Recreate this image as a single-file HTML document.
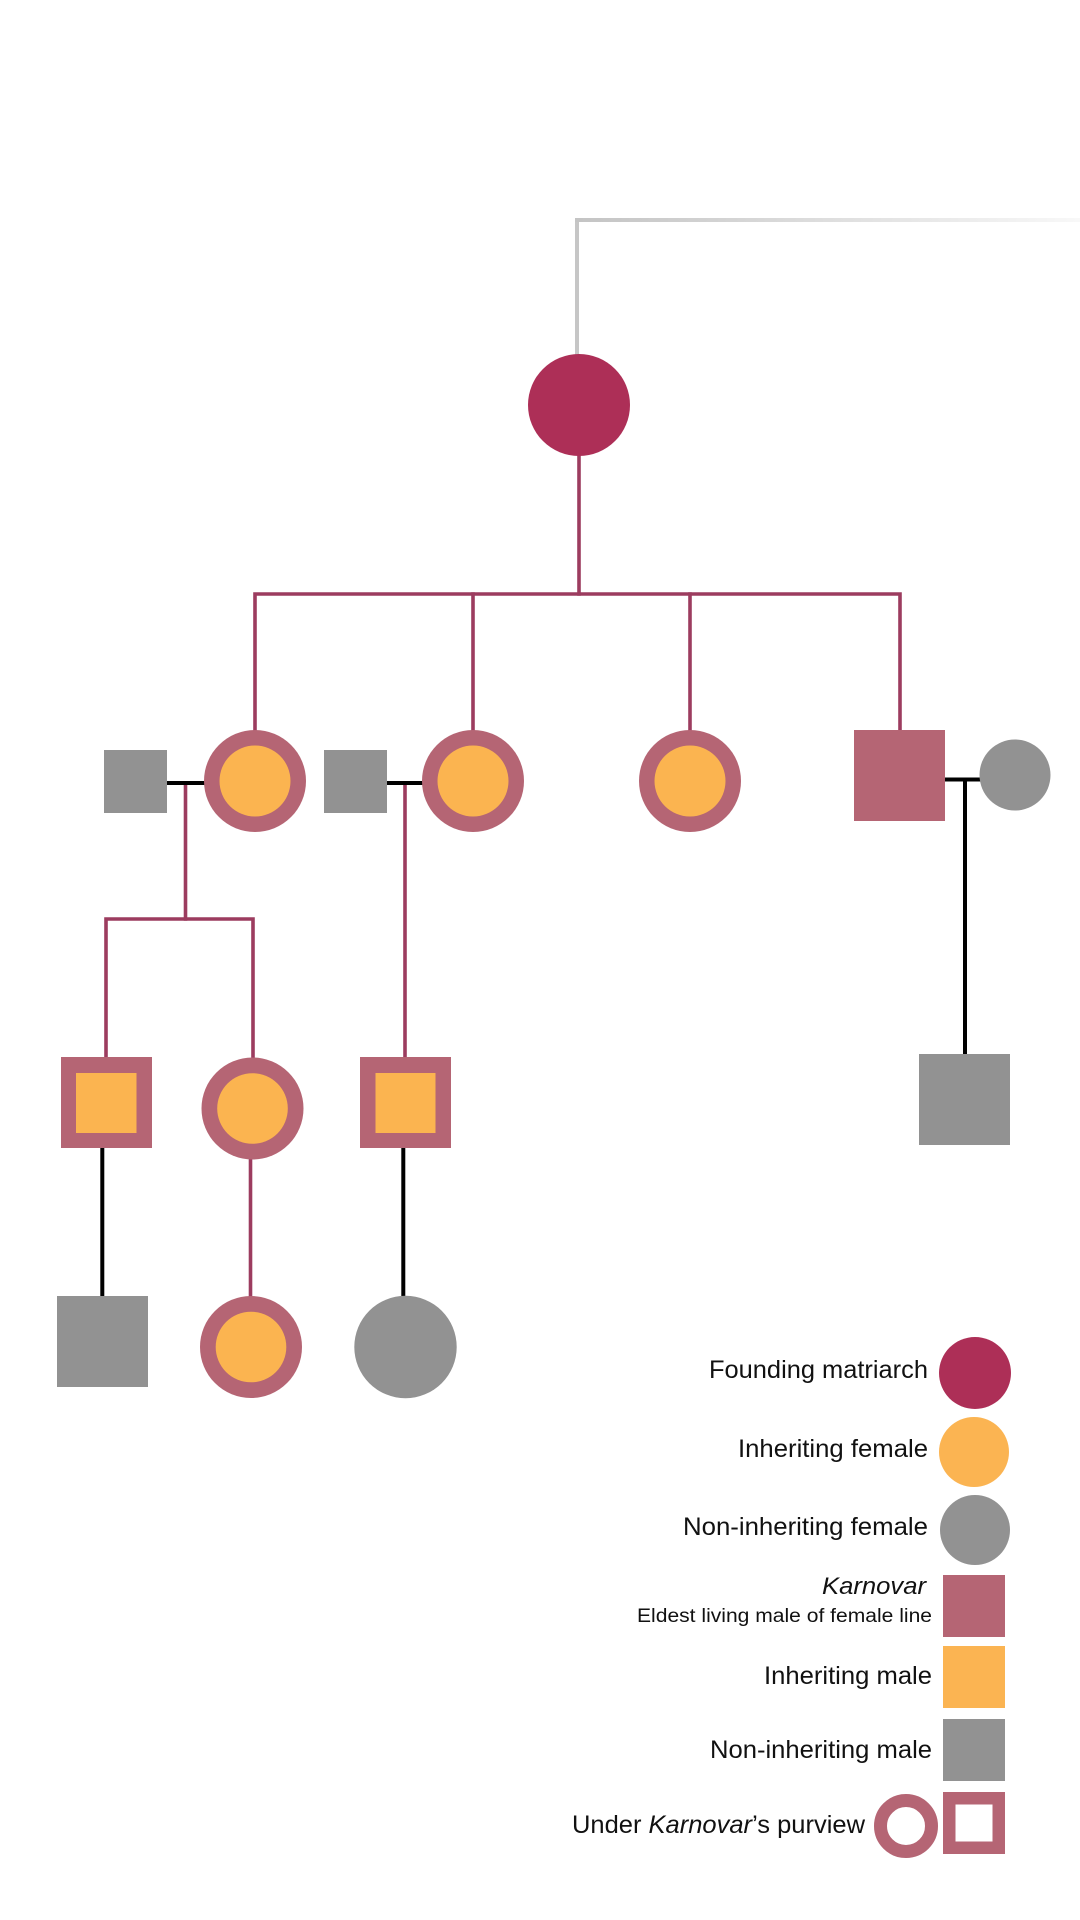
<!DOCTYPE html>
<html>
<head>
<meta charset="utf-8">
<style>
  html, body { margin: 0; padding: 0; background: #ffffff; }
  body { width: 1080px; height: 1920px; overflow: hidden; }
  svg { display: block; }
  text { font-family: "Liberation Sans", sans-serif; fill: #111111; }
</style>
</head>
<body>
<svg width="1080" height="1920" viewBox="0 0 1080 1920" xmlns="http://www.w3.org/2000/svg">
  <defs>
    <linearGradient id="topg" x1="577" y1="0" x2="1080" y2="0" gradientUnits="userSpaceOnUse">
      <stop offset="0" stop-color="#c4c4c4"/>
      <stop offset="1" stop-color="#f8f8f8"/>
    </linearGradient>
  </defs>

  <!-- top grey connector -->
  <rect x="575" y="218" width="4" height="137" fill="#c6c6c6"/>
  <rect x="575" y="218" width="505" height="4" fill="url(#topg)"/>

  <!-- maroon lines -->
  <g stroke="#9c3c5f" stroke-width="3.6" fill="none" stroke-linecap="square">
    <line x1="579" y1="455" x2="579" y2="594"/>
    <polyline points="255,730 255,594 900,594 900,730"/>
    <line x1="473" y1="594" x2="473" y2="730"/>
    <line x1="690" y1="594" x2="690" y2="730"/>
    <!-- gen1 left family -->
    <line x1="185.5" y1="785" x2="185.5" y2="919"/>
    <polyline points="106,1057 106,919 253,919 253,1057"/>
    <!-- gen1 second family -->
    <line x1="405" y1="785" x2="405" y2="1057"/>
    <!-- gen2 circle to gen3 -->
    <line x1="250.5" y1="1159" x2="250.5" y2="1296"/>
  </g>

  <!-- black lines -->
  <g stroke="#000000" stroke-width="4" fill="none">
    <line x1="167" y1="783" x2="206" y2="783"/>
    <line x1="387" y1="783" x2="424" y2="783"/>
    <line x1="945" y1="779.5" x2="981" y2="779.5"/>
    <line x1="965" y1="779.5" x2="965" y2="1055"/>
    <line x1="102.3" y1="1148" x2="102.3" y2="1297"/>
    <line x1="403.3" y1="1148" x2="403.3" y2="1297"/>
  </g>

  <!-- founding matriarch -->
  <circle cx="579" cy="405" r="51" fill="#ad2f57"/>

  <!-- gen 1 -->
  <rect x="104" y="750" width="63" height="63" fill="#929292"/>
  <rect x="324" y="750" width="63" height="63" fill="#929292"/>
  <circle cx="255" cy="781" r="51" fill="#b56574"/>
  <circle cx="255" cy="781" r="35.5" fill="#fbb450"/>
  <circle cx="473" cy="781" r="51" fill="#b56574"/>
  <circle cx="473" cy="781" r="35.5" fill="#fbb450"/>
  <circle cx="690" cy="781" r="51" fill="#b56574"/>
  <circle cx="690" cy="781" r="35.5" fill="#fbb450"/>
  <rect x="854" y="730" width="91" height="91" fill="#b56574"/>
  <circle cx="1015" cy="775" r="35.5" fill="#929292"/>

  <!-- gen 2 -->
  <rect x="61" y="1057" width="91" height="91" fill="#b56574"/>
  <rect x="76" y="1073" width="60.5" height="60" fill="#fbb450"/>
  <circle cx="252.5" cy="1108.5" r="51" fill="#b56574"/>
  <circle cx="252.5" cy="1108.5" r="35.3" fill="#fbb450"/>
  <rect x="360" y="1057" width="91" height="91" fill="#b56574"/>
  <rect x="375.5" y="1073" width="60" height="60" fill="#fbb450"/>
  <rect x="919" y="1054" width="91" height="91" fill="#929292"/>

  <!-- gen 3 -->
  <rect x="57" y="1296" width="91" height="91" fill="#929292"/>
  <circle cx="251" cy="1347" r="51" fill="#b56574"/>
  <circle cx="251" cy="1347" r="35.3" fill="#fbb450"/>
  <circle cx="405.5" cy="1347" r="51.2" fill="#929292"/>

  <!-- legend symbols -->
  <circle cx="975" cy="1373" r="36" fill="#ad2f57"/>
  <circle cx="974" cy="1452" r="35" fill="#fbb452"/>
  <circle cx="975" cy="1530" r="35" fill="#929292"/>
  <rect x="943" y="1575" width="62" height="62" fill="#b56574"/>
  <rect x="943" y="1646" width="62" height="62" fill="#fbb452"/>
  <rect x="943" y="1719" width="62" height="62" fill="#929292"/>
  <circle cx="906" cy="1826" r="25.5" fill="none" stroke="#b56574" stroke-width="13"/>
  <rect x="949.25" y="1798.25" width="49.5" height="49.5" fill="none" stroke="#b56574" stroke-width="12.5"/>

  <!-- legend text -->
  <text x="928" y="1378" font-size="25" text-anchor="end" textLength="219" lengthAdjust="spacingAndGlyphs">Founding matriarch</text>
  <text x="928" y="1457" font-size="25" text-anchor="end" textLength="190" lengthAdjust="spacingAndGlyphs">Inheriting female</text>
  <text x="928" y="1535" font-size="25" text-anchor="end" textLength="245" lengthAdjust="spacingAndGlyphs">Non-inheriting female</text>
  <text x="926" y="1594" font-size="24" font-style="italic" text-anchor="end" textLength="104" lengthAdjust="spacingAndGlyphs">Karnovar</text>
  <text x="932" y="1622" font-size="19" text-anchor="end" textLength="295" lengthAdjust="spacingAndGlyphs">Eldest living male of female line</text>
  <text x="932" y="1684" font-size="25" text-anchor="end" textLength="168" lengthAdjust="spacingAndGlyphs">Inheriting male</text>
  <text x="932" y="1758" font-size="25" text-anchor="end" textLength="222" lengthAdjust="spacingAndGlyphs">Non-inheriting male</text>
  <text x="572" y="1833" font-size="25" textLength="293" lengthAdjust="spacingAndGlyphs">Under <tspan font-style="italic">Karnovar</tspan>’s purview</text>
</svg>
</body>
</html>
